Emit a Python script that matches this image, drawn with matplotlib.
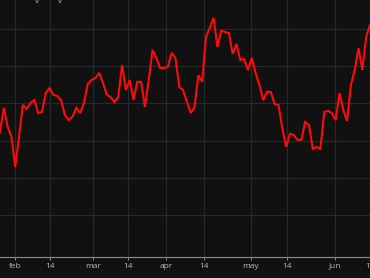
import matplotlib
matplotlib.use("Agg")
import matplotlib.pyplot as plt

# daily closing values (one per session)
values = [
    122.3, 128.8, 123.7, 121.0, 112.9, 121.2, 129.6, 128.5, 130.1, 130.9,
    127.4, 127.7, 132.8, 134.1, 132.3, 132.0, 130.9, 126.9, 125.5, 126.4,
    128.8, 127.4, 130.1, 135.2, 136.3, 136.8, 138.2, 135.5, 132.3, 131.7,
    130.4, 131.7, 140.3, 133.6, 136.3, 130.9, 135.8, 135.8, 129.0, 136.3,
    144.4, 142.2, 139.5, 139.5, 139.8, 143.6, 142.2, 134.4, 133.6, 130.4,
    127.4, 129.0, 137.6, 135.8, 147.9, 150.3, 153.0, 145.2, 149.5, 149.2,
    148.9, 143.3, 146.0, 141.7, 141.9, 139.0, 142.2, 138.2, 135.0, 130.9,
    133.1, 133.1, 129.8, 129.6, 123.4, 118.3, 121.8, 121.5, 120.2, 120.2,
    125.0, 124.2, 117.8, 118.3, 117.8, 127.7, 128.0, 127.4, 125.5, 132.8,
    128.2, 125.3, 135.0, 139.0, 144.9, 139.0, 147.9, 151.1,
]
sessions = list(range(len(values)))

# x tick positions (session index) and labels
tick_pos = [3.93, 13.1, 24.4, 33.6, 43.5, 53.5, 65.8, 75.2, 87.8, 97.0]
tick_labels = ["feb", "14", "mar", "14", "apr", "14", "may", "14", "jun", "14"]
y_grid = [100, 110, 120, 130, 140, 150]

BG = "#111111"
GRID = "#252a31"

fig = plt.figure(figsize=(3.70, 2.78), dpi=100, facecolor=BG)
ax = fig.add_axes([0.0, 21 / 278, 1.0, 257 / 278])
ax.set_facecolor(BG)

ax.plot(sessions, values, color="#ff0a0a", linewidth=1.5, solid_joinstyle="miter",
        zorder=3)

ax.set_xlim(0, 97)
ax.set_ylim(88.7, 157.8)

ax.set_xticks(tick_pos)
ax.set_xticklabels(tick_labels, fontfamily="Open Sans", fontsize=6, color="#b8b8b8")
ax.set_yticks(y_grid)
ax.set_yticklabels([])
ax.tick_params(axis="y", length=0)
ax.tick_params(axis="x", length=2.5, width=0.7, color="#8a8a8a", pad=1.5,
               direction="out")

ax.grid(True, color=GRID, linewidth=0.8, zorder=0)

for s in ["top", "left", "right"]:
    ax.spines[s].set_visible(False)
ax.spines["bottom"].set_color("#8c8c8c")
ax.spines["bottom"].set_linewidth(0.8)

# fragments of text cut off at the top edge
for xp in (37, 60):
    fig.text(xp / 370, 1 - 3 / 278, "v", fontsize=6, color="#bbbbbb",
             ha="center", va="baseline", fontfamily="Open Sans")

fig.savefig("out.png", dpi=100, facecolor=BG)
